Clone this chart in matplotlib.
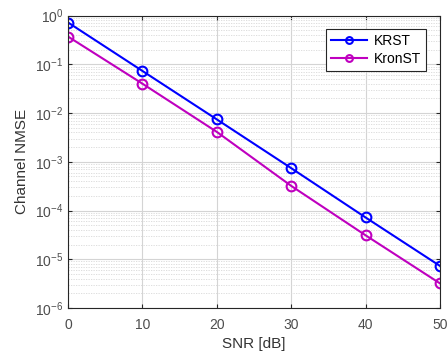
import numpy as np
import matplotlib.pyplot as plt
from matplotlib.ticker import LogLocator, NullFormatter

plt.rcParams['font.family'] = ['Liberation Sans', 'DejaVu Sans']
plt.rcParams['mathtext.fontset'] = 'custom'
plt.rcParams['mathtext.rm'] = 'Liberation Sans'

snr = [0, 10, 20, 30, 40, 50]
krst = [0.72, 0.073, 0.0074, 7.4e-4, 7.2e-5, 7.3e-6]
kronst = [0.37, 0.040, 0.0041, 3.2e-4, 3.1e-5, 3.2e-6]

fig = plt.figure(figsize=(4.48, 3.54), dpi=100)
ax = fig.add_axes([0.152, 0.130, 0.830, 0.826])

ax.semilogy(snr, krst, '-o', color=(0, 0, 1), lw=1.5, ms=7,
            mfc='none', mew=1.5, label='KRST')
ax.semilogy(snr, kronst, '-o', color=(0.75, 0, 0.75), lw=1.5, ms=7,
            mfc='none', mew=1.5, label='KronST')

ax.set_xlim(0, 50)
ax.set_ylim(1e-6, 1)
ax.set_xticks([0, 10, 20, 30, 40, 50])
ax.yaxis.set_major_locator(LogLocator(base=10, numticks=10))
ax.yaxis.set_minor_locator(LogLocator(base=10, subs=np.arange(2, 10), numticks=20))
ax.yaxis.set_minor_formatter(NullFormatter())

ax.grid(True, which='major', color='#d4d4d4', lw=0.8)
ax.grid(True, which='minor', axis='y', color='#d8d8d8', lw=0.6, ls=(0, (1.5, 1.5)))
ax.set_axisbelow(True)

for s in ax.spines.values():
    s.set_color('#262626')
    s.set_linewidth(0.8)
ax.tick_params(which='both', direction='in', top=True, right=True,
               colors='#262626', labelcolor='#4d4d4d', labelsize=10)
ax.tick_params(which='minor', length=0)
ax.tick_params(which='major', length=3)
ax.tick_params(axis='x', pad=7)

ax.set_xlabel('SNR [dB]', fontsize=11, color='#333333', labelpad=4)
ax.set_ylabel('Channel NMSE', fontsize=11, color='#333333', labelpad=4)

leg = ax.legend(loc='upper right', bbox_to_anchor=(0.962, 0.955), borderaxespad=0,
                fontsize=10, fancybox=False, framealpha=1, edgecolor='#262626',
                handlelength=2.6, borderpad=0.35, labelspacing=0.3,
                handletextpad=0.5, markerscale=0.7)
leg.get_frame().set_linewidth(0.8)

fig.savefig('out.png', dpi=100)
